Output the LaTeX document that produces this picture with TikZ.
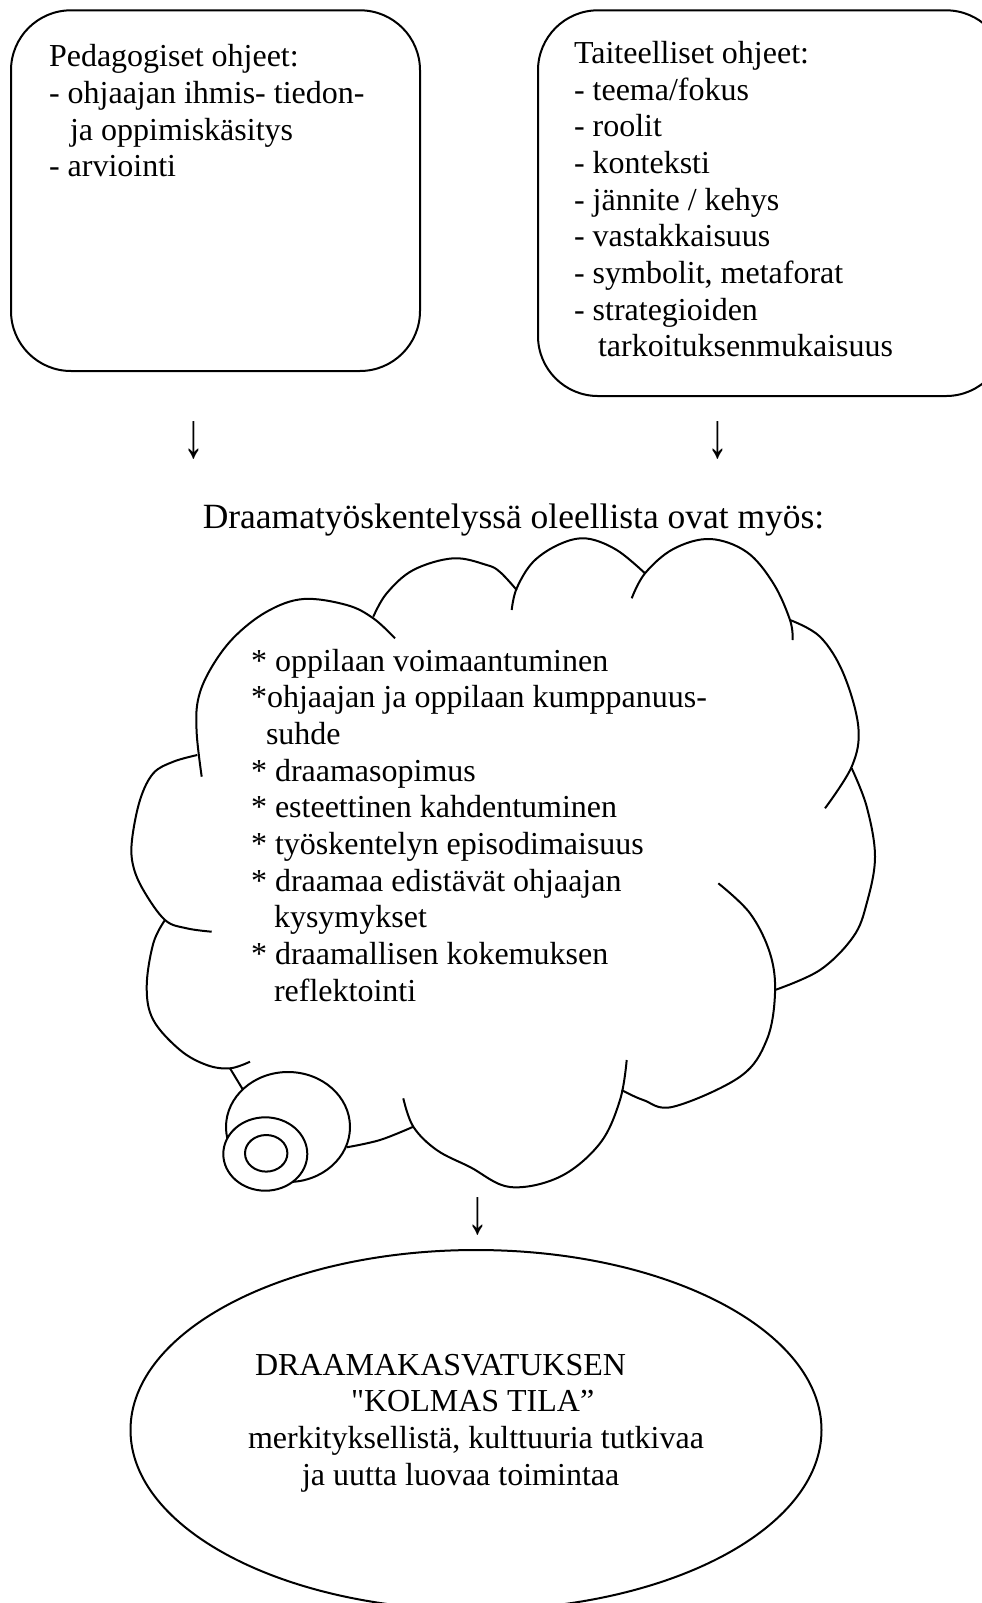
\documentclass[tikz,border=0pt]{standalone}
\usepackage{graphicx}
\usepackage{fontspec}
\setmainfont{Liberation Serif}
\newfontfamily\rawserif[Ligatures=TeXOff]{Liberation Serif}
\begin{document}
\begin{tikzpicture}[x=0.375pt,y=-0.375pt,line width=0.75pt,
  txt/.style={anchor=base west,inner sep=0pt,font=\fontsize{12}{13.8}\selectfont},
  arrowglyph/.style={anchor=center,inner sep=0pt,font=\fontsize{12}{13.8}\selectfont},
  roundbox/.style={draw,rounded corners=22.5pt,anchor=north west,inner sep=0pt},
  lobe/.style={smooth,tension=0.6}]
\useasboundingbox (0,0) rectangle (982,1603);

% top boxes
\node[roundbox,minimum width=153.375pt,minimum height=135.26pt] (pedbox) at (10,9.3) {};
\node[roundbox,minimum width=175.5pt,minimum height=144.64pt] (taibox) at (537,9.3) {};

\node[txt] (p1) at (48,66.7) {Pedagogiset ohjeet:};
\node[txt] (p2) at (48,103.4) {- ohjaajan ihmis- tiedon-};
\node[txt] (p3) at (69,140.1) {ja oppimiskäsitys};
\node[txt] (p4) at (48,176.8) {- arviointi};

\node[txt] (t1) at (573,63.3) {Taiteelliset ohjeet:};
\node[txt] (t2) at (573,100) {- teema/fokus};
\node[txt] (t3) at (573,136.7) {- roolit};
\node[txt] (t4) at (573,173.4) {- konteksti};
\node[txt] (t5) at (573,210.1) {- jännite / kehys};
\node[txt] (t6) at (573,246.8) {- vastakkaisuus};
\node[txt] (t7) at (573,283.5) {- symbolit, metaforat};
\node[txt] (t8) at (573,320.2) {- strategioiden};
\node[txt] (t9) at (597,356.9) {tarkoituksenmukaisuus};

% arrows
\node[arrowglyph] (a1) at (194,440) {\scalebox{1.3}[2.0]{↓}};
\node[arrowglyph] (a2) at (718,440) {\scalebox{1.3}[2.0]{↓}};
\node[arrowglyph] (a3) at (478,1216) {\scalebox{1.3}[2.0]{↓}};

% heading
\node[anchor=base,inner sep=0pt,font=\fontsize{13.3}{16}\selectfont] (head) at (513.5,528) {Draamatyöskentelyssä oleellista ovat myös:};

% cloud lobes
\draw plot[lobe] coordinates {(201.7,776.7) (196.7,733.3) (198,700) (210,670) (233.3,638) (266.7,611.7) (303.3,599) (346.7,605) (373.3,618.3) (395,638.3)};
\draw plot[lobe] coordinates {(373.3,616.7) (386.7,593.3) (413.3,570) (453.3,558.3) (486.7,565) (500,572) (516.7,590)};
\draw plot[lobe] coordinates {(511.7,610) (516.7,588.3) (533.3,561.7) (560,544) (586.7,538.5) (616.7,550) (645,573.3)};
\draw plot[lobe] coordinates {(631.7,598.3) (645,573.3) (673.3,549) (710,539) (746.7,552) (773.3,583.3) (790,620) (792.7,640)};
\draw plot[lobe] coordinates {(790,620) (820,636.7) (843.3,673.3) (858.3,726.7) (852,766) (825,808.3)};
\draw plot[lobe] coordinates {(851.7,768.3) (866.7,806.7) (875,856.7) (866.7,903.3) (853.3,936.7) (820,970) (775,990)};
\draw plot[lobe] coordinates {(718.3,883.3) (750,913.3) (770,953.3) (775,993.3) (766.7,1040) (740,1076.7) (673.3,1106.7) (643.3,1100) (621.7,1090)};
\draw plot[lobe] coordinates {(626.7,1060) (620,1100) (600,1143.3) (560,1176.7) (510,1187) (470,1167) (436.7,1150) (413.3,1126.7) (403.3,1098.3)};
\draw plot[lobe] coordinates {(413.3,1126.7) (380,1140) (346.7,1147.3)};
\draw plot[lobe] coordinates {(197.3,755) (173.3,761.7) (153.3,773.3) (140,800) (132,840) (133,865) (143.3,890) (165,920) (186.7,928.3) (211.7,931.7)};
\draw plot[lobe] coordinates {(165,920) (153.3,943.3) (146.7,986.7) (153.3,1020) (180,1050) (206.7,1065) (230,1068.3) (250,1061.7)};
\draw (230,1068.3) -- (242.7,1089.3);

% thought bubbles
\draw[fill=white] (288,1127) ellipse [x radius=23.25pt, y radius=20.625pt];
\draw[fill=white] (265.3,1154) ellipse [x radius=15.75pt, y radius=13.76pt];
\draw (266.2,1153.3) ellipse [x radius=7.95pt, y radius=6.86pt];

% cloud text
\node[txt] (c0) at (250,671) {* oppilaan voimaantuminen};
\node[txt] (c1) at (250,707.7) {*ohjaajan ja oppilaan kumppanuus-};
\node[txt] (c2) at (265,744.4) {suhde};
\node[txt] (c3) at (250,781.1) {* draamasopimus};
\node[txt] (c4) at (250,817.8) {* esteettinen kahdentuminen};
\node[txt] (c5) at (250,854.5) {* työskentelyn episodimaisuus};
\node[txt] (c6) at (250,891.2) {* draamaa edistävät ohjaajan};
\node[txt] (c7) at (273,927.9) {kysymykset};
\node[txt] (c8) at (250,964.6) {* draamallisen kokemuksen};
\node[txt] (c9) at (273,1001.3) {reflektointi};

% bottom ellipse
\draw (476,1430) ellipse [x radius=129.5625pt, y radius=67.5pt];
\node[txt] (e1) at (254,1375) {DRAAMAKASVATUKSEN};
\node[txt] (e2) at (350,1411.7) {{\rawserif "}KOLMAS TILA”};
\node[txt] (e3) at (247,1448.4) {merkityksellistä, kulttuuria tutkivaa};
\node[txt] (e4) at (301,1485.1) {ja uutta luovaa toimintaa};
\end{tikzpicture}
\end{document}
